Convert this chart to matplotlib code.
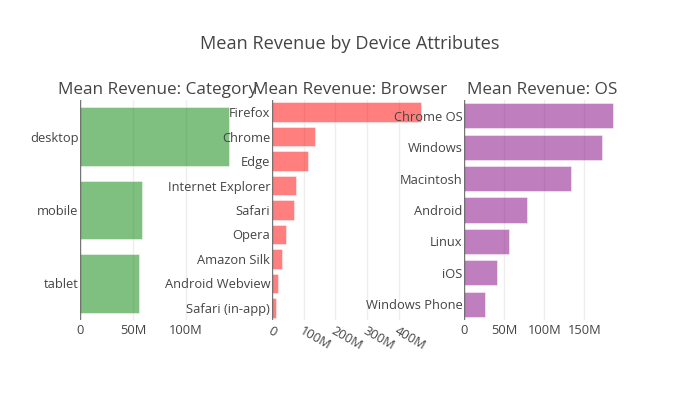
import matplotlib
matplotlib.use("Agg")
import matplotlib.pyplot as plt
from matplotlib.ticker import FuncFormatter

plt.rcParams['font.family'] = ['Open Sans', 'DejaVu Sans']

# Data (mean revenue, in millions)
categories = ["desktop", "mobile", "tablet"]
category_rev = [140.4, 58.2, 55.7]

browsers = ["Firefox", "Chrome", "Edge", "Internet Explorer", "Safari",
            "Opera", "Amazon Silk", "Android Webview", "Safari (in-app)"]
browser_rev = [468, 134, 112, 77, 68, 43, 30, 20, 12.6]

oses = ["Chrome OS", "Windows", "Macintosh", "Android", "Linux", "iOS", "Windows Phone"]
os_rev = [185, 172, 133, 78, 56, 41, 26.2]

cat_ticks = [0, 50, 100]
browser_ticks = [0, 100, 200, 300, 400]
os_ticks = [0, 50, 100, 150]

title = "Mean Revenue by Device Attributes"
sub_titles = ["Mean Revenue: Category", "Mean Revenue: Browser", "Mean Revenue: OS"]
colors = [(0, 128/255, 0, 0.5), (1, 0, 0, 0.5), (128/255, 0, 128/255, 0.5)]

W, H = 700, 400
fig = plt.figure(figsize=(7, 4), dpi=100)
TXT = '#444444'
TICK_FS = 9.25
SUB_FS = 12.3
TITLE_FS = 13.1

def fmt(v, pos):
    return "0" if v == 0 else f"{int(round(v))}M"

panels = [
    (80, categories, category_rev, cat_ticks),
    (272, browsers, browser_rev, browser_ticks),
    (464, oses, os_rev, os_ticks),
]

for i, (x0, labels, vals, ticks) in enumerate(panels):
    ax = fig.add_axes([x0 / W, 80 / H, 156 / W, 220 / H])
    y = list(range(len(labels)))
    ax.barh(y, vals, height=0.8, color=colors[i], edgecolor=(1, 1, 1, 0.6), linewidth=0.5, zorder=2)
    ax.set_ylim(len(labels) - 0.5, -0.5)
    ax.set_xlim(0, max(vals) * 1.05)
    ax.set_yticks(y)
    ax.set_yticklabels(labels)
    ax.set_xticks(ticks)
    ax.xaxis.set_major_formatter(FuncFormatter(fmt))
    for s in ax.spines.values():
        s.set_visible(False)
    ax.grid(axis='x', color='#eeeeee', linewidth=1, zorder=0)
    ax.set_axisbelow(True)
    ax.axvline(0, color='#444444', linewidth=1, alpha=0.7, zorder=3)
    ax.tick_params(axis='y', length=0, pad=1.2, labelsize=TICK_FS, labelcolor=TXT)
    ax.tick_params(axis='x', length=0, pad=3, labelsize=TICK_FS, labelcolor=TXT)
    if i == 1:
        for lab in ax.get_xticklabels():
            lab.set_rotation(-30)
            lab.set_ha('left')
            lab.set_va('top')
            lab.set_rotation_mode('anchor')
    ax.patch.set_alpha(0)
    fig.text((x0 + 78) / W, 1 - 98 / H, sub_titles[i], ha='center', va='bottom',
             fontsize=SUB_FS, color=TXT)

fig.text(0.5, 1 - 44 / H, title, ha='center', va='center', fontsize=TITLE_FS, color=TXT)

fig.savefig("out.png", dpi=100, facecolor='white')
